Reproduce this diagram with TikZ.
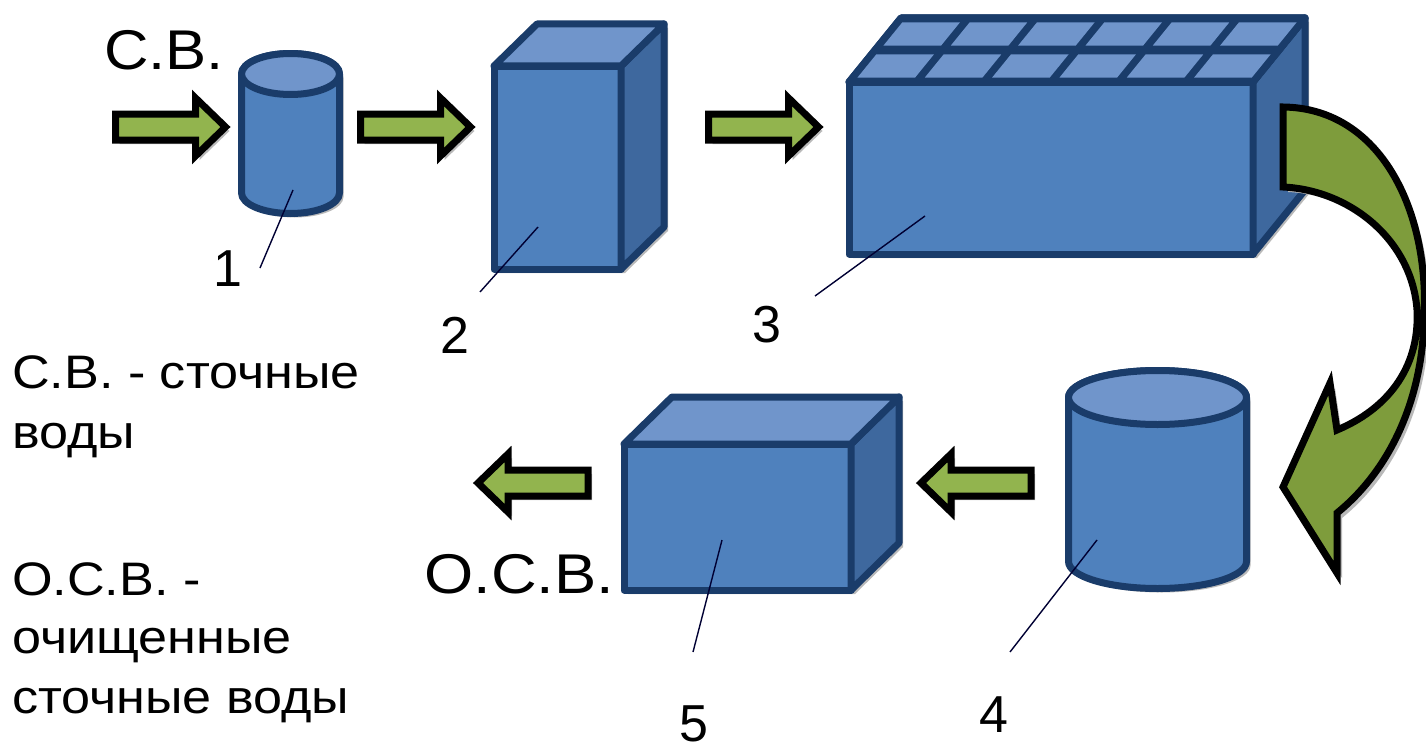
\documentclass[tikz,border=0pt]{standalone}
\usepackage{fontspec}
\usepackage{graphicx}
\setmainfont{Liberation Sans}
\usetikzlibrary{calc}
\definecolor{bfront}{RGB}{79,129,189}
\definecolor{btop}{RGB}{112,149,203}
\definecolor{bside}{RGB}{62,104,158}
\definecolor{bline}{RGB}{26,60,106}
\definecolor{agreen}{RGB}{146,180,78}
\definecolor{cgreen}{RGB}{126,156,60}
\definecolor{shad}{RGB}{185,185,185}
\tikzset{
  shape line/.style={draw=bline, line width=7pt, line join=round},
  arrow body/.style={draw=black, line width=7pt, line join=miter},
  shadow fill/.style={fill=shad},
  leader/.style={draw=black!80!blue, line width=1.4pt},
  lbl/.style={font=\fontsize{56}{60}\selectfont, inner sep=0pt, anchor=base west},
  legend/.style={font=\fontsize{47}{60}\selectfont, inner sep=0pt, anchor=base west},
  num/.style={font=\fontsize{52}{60}\selectfont, inner sep=0pt},
}
\newcommand\wide[2]{\scalebox{#1}[1]{#2}}
% right-pointing block arrow, #1 = tail x, #2 = centre y
\newcommand\myRarrow[2]{%
  \begin{scope}[shift={(#1,#2)}]
    \path[shadow fill, shift={(4,4)}] (0,-13) -- (80,-13) -- (80,-29) -- (110,0) -- (80,29) -- (80,13) -- (0,13) -- cycle;
    \path[arrow body, fill=agreen] (0,-13) -- (80,-13) -- (80,-29) -- (110,0) -- (80,29) -- (80,13) -- (0,13) -- cycle;
  \end{scope}}
\newcommand\myLarrow[2]{%
  \begin{scope}[shift={(#1,#2)}, xscale=-1]
    \path[shadow fill, shift={(-4,4)}] (0,-13) -- (80,-13) -- (80,-29) -- (110,0) -- (80,29) -- (80,13) -- (0,13) -- cycle;
    \path[arrow body, fill=agreen] (0,-13) -- (80,-13) -- (80,-29) -- (110,0) -- (80,29) -- (80,13) -- (0,13) -- cycle;
  \end{scope}}
% box: front x0 y0 x1 y1, depth dx dy
\newcommand\myBox[6]{%
  \path[shadow fill, shift={(4,4)}] (#1,#2) -- ({#1+(#5)},{#2+(#6)}) -- ({#3+(#5)},{#2+(#6)}) -- ({#3+(#5)},{#4+(#6)}) -- (#3,#4) -- (#1,#4) -- cycle;
  \path[fill=bfront, shape line] (#1,#2) rectangle (#3,#4);
  \path[fill=bside, shape line] (#3,#2) -- ({#3+(#5)},{#2+(#6)}) -- ({#3+(#5)},{#4+(#6)}) -- (#3,#4) -- cycle;
  \path[fill=btop, shape line] (#1,#2) -- ({#1+(#5)},{#2+(#6)}) -- ({#3+(#5)},{#2+(#6)}) -- (#3,#2) -- cycle;}
% cylinder: cx, top y, bottom y, rx, ry
\newcommand\myCyl[5]{%
  \path[shadow fill, shift={(4,4)}] ({#1-#4},#2) -- ({#1-#4},#3) arc[start angle=180, end angle=360, x radius=#4pt, y radius=#5pt] -- ({#1+#4},#2) arc[start angle=0, end angle=180, x radius=#4pt, y radius=#5pt] -- cycle;
  \path[fill=bfront, shape line] ({#1-#4},#2) -- ({#1-#4},#3) arc[start angle=180, end angle=360, x radius=#4pt, y radius=#5pt] -- ({#1+#4},#2) arc[start angle=0, end angle=180, x radius=#4pt, y radius=#5pt] -- cycle;
  \path[fill=btop, shape line] (#1,#2) ellipse[x radius=#4pt, y radius=#5pt];}
\begin{document}
\begin{tikzpicture}[x=1pt, y=-1pt]
\useasboundingbox (0,0) rectangle (1426,752);
\fill[white] (0,0) rectangle (1426,752);

% top row
\myRarrow{115.5}{127}
\myCyl{290.5}{74}{193}{49}{20.5}
\myRarrow{360.5}{127}
\myBox{494}{66}{621}{269}{43}{-42}
\myRarrow{708.5}{127}
\myBox{849}{82}{1253}{254}{52}{-64}
% tiles on top of box 3
\path[fill=bline, draw=bline, line width=7pt, line join=round] (849,82) -- (901,18) -- (1305,18) -- (1253,82) -- cycle;
\foreach \i in {0,...,5}{\foreach \j in {0,1}{
  \path[fill=btop]
    ({849+(\i/6+0.012)*404+(\j/2+0.07)*52},{82-(\j/2+0.07)*64}) --
    ({849+((\i+1)/6-0.012)*404+(\j/2+0.07)*52},{82-(\j/2+0.07)*64}) --
    ({849+((\i+1)/6-0.012)*404+((\j+1)/2-0.07)*52},{82-((\j+1)/2-0.07)*64}) --
    ({849+(\i/6+0.012)*404+((\j+1)/2-0.07)*52},{82-((\j+1)/2-0.07)*64}) -- cycle;
}}

% curved arrow
\path[shadow fill, shift={(5,5)}] (1283,107) .. controls (1380,108) and (1430,210) .. (1424,320)
  .. controls (1422,400) and (1390,470) .. (1337,513) -- (1337,573) -- (1283,487) -- (1330,383) -- (1337,430)
  .. controls (1385,410) and (1420,370) .. (1417,310) .. controls (1412,240) and (1350,190) .. (1283,187) -- cycle;
\path[arrow body, fill=cgreen] (1283,107) .. controls (1380,108) and (1430,210) .. (1424,320)
  .. controls (1422,400) and (1390,470) .. (1337,513) -- (1337,573) -- (1283,487) -- (1330,383) -- (1337,430)
  .. controls (1385,410) and (1420,370) .. (1417,310) .. controls (1412,240) and (1350,190) .. (1283,187) -- cycle;

% bottom row
\myCyl{1157.5}{397.5}{561.5}{89}{27}
\myLarrow{1031}{483}
\myBox{624}{444}{851}{590}{48}{-47}
\myLarrow{588}{483}

% labels
\node[lbl] (sv) at (104,70) {\wide{1.1}{С.В.}};
\node[lbl] (osv) at (424,593) {\wide{1.13}{О.С.В.}};
\node[legend] (t1) at (12,388) {\wide{1.11}{С.В. - сточные}};
\node[legend] (t2) at (12,448) {\wide{1.11}{воды}};
\node[legend] (t3) at (12,595) {\wide{1.11}{О.С.В. -}};
\node[legend] (t4) at (12,653) {\wide{1.11}{очищенные}};
\node[legend] (t5) at (12,713) {\wide{1.11}{сточные воды}};

% numbers and leaders
\node[num] (n1) at (228,269) {1};
\node[num] (n2) at (455,335) {2};
\node[num] (n3) at (767,325) {3};
\node[num] (n4) at (994,715) {4};
\node[num] (n5) at (694,724) {5};
\coordinate (a1) at (260,268); \coordinate (b1) at (293,190);
\coordinate (a2) at (480,292); \coordinate (b2) at (538,227);
\coordinate (a3) at (815,296); \coordinate (b3) at (925,216);
\coordinate (a4) at (1010,652); \coordinate (b4) at (1097,540);
\coordinate (a5) at (693,652); \coordinate (b5) at (722,540);
\foreach \k in {1,...,5}{\draw[leader] (a\k) -- (b\k);}
\end{tikzpicture}
\end{document}
